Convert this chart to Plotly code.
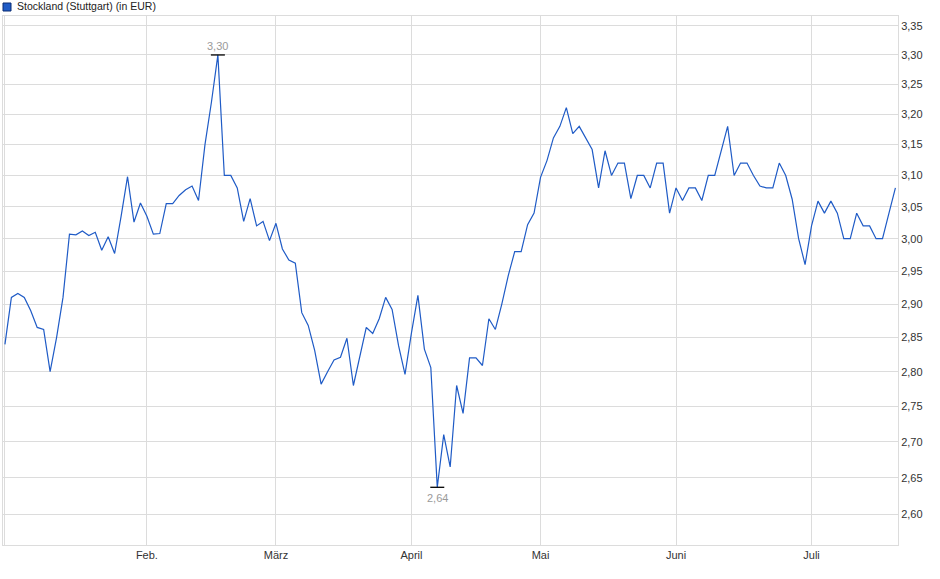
import math
import plotly.graph_objects as go

# Stockland, Börse Stuttgart, daily closes (trading-day index), Jan-Jul
prices = [
    2.84, 2.91, 2.916, 2.91, 2.89, 2.865, 2.862, 2.80, 2.85, 2.91,
    3.007, 3.006, 3.012, 3.005, 3.01, 2.982, 3.003, 2.977, 3.035, 3.098,
    3.026, 3.056, 3.035, 3.007, 3.008, 3.055, 3.055, 3.068, 3.077, 3.083,
    3.06, 3.15, 3.22, 3.30, 3.10, 3.10, 3.08, 3.027, 3.063, 3.02,
    3.027, 2.997, 3.024, 2.984, 2.967, 2.962, 2.887, 2.868, 2.831, 2.782,
    2.80, 2.817, 2.821, 2.849, 2.78, 2.821, 2.865, 2.856, 2.878, 2.91,
    2.892, 2.838, 2.796, 2.857, 2.913, 2.833, 2.806, 2.637, 2.71, 2.665,
    2.78, 2.74, 2.82, 2.82, 2.809, 2.878, 2.862, 2.90, 2.943, 2.98,
    2.98, 3.022, 3.04, 3.097, 3.124, 3.161, 3.18, 3.211, 3.168, 3.18,
    3.16, 3.142, 3.08, 3.14, 3.10, 3.12, 3.12, 3.063, 3.10, 3.10,
    3.08, 3.12, 3.12, 3.04, 3.08, 3.06, 3.08, 3.08, 3.06, 3.10,
    3.10, 3.142, 3.18, 3.10, 3.12, 3.12, 3.10, 3.083, 3.08, 3.08,
    3.12, 3.10, 3.062, 3.00, 2.96, 3.02, 3.059, 3.04, 3.059, 3.04,
    3.00, 3.00, 3.04, 3.02, 3.02, 3.00, 3.00, 3.04, 3.08,
]
days = list(range(len(prices)))

# first trading day of each month
month_starts = [0, 22, 42, 63, 83, 104, 125]
month_labels = ["", "Feb.", "März", "April", "Mai", "Juni", "Juli"]

y_ticks = [2.60, 2.65, 2.70, 2.75, 2.80, 2.85, 2.90, 2.95,
           3.00, 3.05, 3.10, 3.15, 3.20, 3.25, 3.30, 3.35]
y_labels = [f"{v:.2f}".replace(".", ",") for v in y_ticks]

title = "Stockland (Stuttgart) (in EUR)"

BLUE = "#1f5bc6"
GRID = "#dcdcdc"

hi = max(prices)
lo = min(prices)
i_hi = prices.index(hi)
i_lo = prices.index(lo)

fig = go.Figure()
fig.add_trace(go.Scatter(
    x=days, y=prices, mode="lines",
    line=dict(color=BLUE, width=1.2),
    showlegend=False, hoverinfo="skip",
))
# black bars marking the high / low
fig.add_trace(go.Scatter(
    x=[i_hi, i_lo], y=[hi, lo], mode="markers",
    marker=dict(symbol="line-ew-open", size=10, color="#000000",
                line=dict(color="#000000", width=1.3)),
    showlegend=False, hoverinfo="skip",
))

# log axis: annotation y is given in log10 units
fig.add_annotation(x=i_hi, y=math.log10(hi), yref="y", text=f"{hi:.2f}".replace(".", ","),
                   showarrow=False, yanchor="bottom", yshift=1,
                   font=dict(size=11, color="#9a9a9a"))
fig.add_annotation(x=i_lo, y=math.log10(lo), yref="y", text=f"{lo:.2f}".replace(".", ","),
                   showarrow=False, yanchor="top", yshift=-3,
                   font=dict(size=11, color="#9a9a9a"))

# legend box top left
fig.add_shape(type="rect", xref="paper", yref="paper",
              xsizemode="pixel", ysizemode="pixel", xanchor=0, yanchor=1,
              x0=0, x1=8, y0=5, y1=13,
              fillcolor=BLUE, line=dict(color="#0b2d73", width=1))
fig.add_annotation(xref="paper", yref="paper", x=0.0134, y=1.0,
                   xanchor="left", yanchor="bottom", yshift=2,
                   text=title, showarrow=False,
                   font=dict(size=10.5, color="#222222"))

fig.update_layout(
    width=940, height=579,
    margin=dict(l=3, r=42, t=16, b=34, pad=0, autoexpand=False),
    paper_bgcolor="white", plot_bgcolor="white",
    font=dict(family="Liberation Sans, Arial, sans-serif", size=11, color="#333333"),
    separators=",.",
)
fig.update_xaxes(
    range=[-0.3, 138.4], tickvals=month_starts, ticktext=month_labels,
    showgrid=True, gridcolor=GRID, gridwidth=1, zeroline=False,
    showline=True, linecolor=GRID, linewidth=1, mirror=True,
    ticks="", tickfont=dict(size=11, color="#333333"),
    automargin=False,
)
fig.update_yaxes(
    type="log", range=[0.40811, 0.52729], side="right",
    tickvals=y_ticks, ticktext=y_labels,
    showgrid=True, gridcolor=GRID, gridwidth=1, zeroline=False,
    showline=True, linecolor=GRID, linewidth=1, mirror=True,
    ticks="", tickfont=dict(size=11, color="#333333"),
    automargin=False,
)

# the page body has a default 8px margin; drop it so the chart sits at 0,0
fig.write_html("out.html", config={"displayModeBar": False},
               post_script="document.body.style.margin='0';")
